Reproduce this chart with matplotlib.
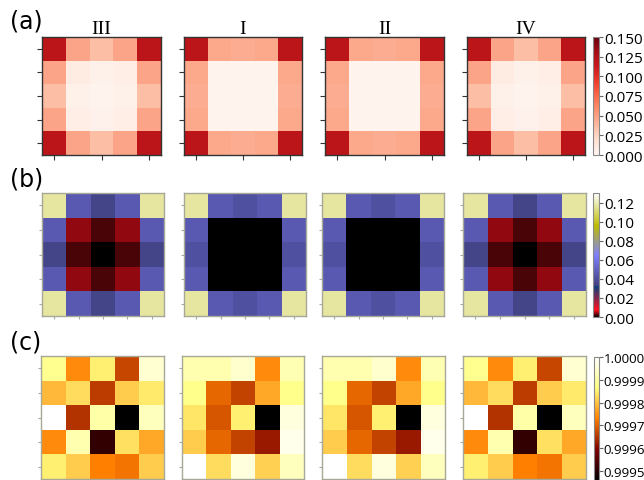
import numpy as np
import matplotlib.pyplot as plt
from matplotlib.ticker import FormatStrFormatter

# panel titles
labels = ["III", "I", "II", "IV"]

# (a) Reds maps
a_III = [[0.120, 0.048, 0.036, 0.048, 0.120],
         [0.048, 0.008, 0.004, 0.006, 0.048],
         [0.036, 0.004, 0.002, 0.004, 0.036],
         [0.048, 0.006, 0.003, 0.006, 0.048],
         [0.120, 0.048, 0.036, 0.048, 0.120]]
a_I = [[0.120, 0.046, 0.044, 0.046, 0.120],
       [0.046, 0.002, 0.002, 0.002, 0.046],
       [0.044, 0.002, 0.002, 0.002, 0.044],
       [0.046, 0.002, 0.002, 0.002, 0.046],
       [0.120, 0.046, 0.044, 0.046, 0.120]]
a_II = a_I
a_IV = a_III

# (b) gist_stern maps
b_III = [[0.117, 0.0455, 0.035, 0.0455, 0.117],
         [0.0455, 0.0045, 0.0021, 0.0045, 0.0455],
         [0.035, 0.0021, 0.0, 0.0021, 0.035],
         [0.0455, 0.0045, 0.0021, 0.0045, 0.0455],
         [0.117, 0.0455, 0.035, 0.0455, 0.117]]
b_I = [[0.117, 0.0455, 0.041, 0.0455, 0.117],
       [0.0455, 0.0, 0.0, 0.0, 0.0455],
       [0.041, 0.0, 0.0, 0.0, 0.041],
       [0.0455, 0.0, 0.0, 0.0, 0.0455],
       [0.117, 0.0455, 0.041, 0.0455, 0.117]]
b_II = b_I
b_IV = b_III

# (c) afmhot maps, stored as fractions of the colour range
c_III = [[0.78, 0.52, 0.72, 0.39, 0.91],
         [0.61, 0.68, 0.37, 0.65, 0.71],
         [1.00, 0.35, 0.83, 0.00, 0.87],
         [0.52, 0.84, 0.10, 0.69, 0.58],
         [0.72, 0.65, 0.50, 0.48, 0.65]]
c_I = [[0.84, 0.84, 0.90, 0.52, 0.85],
       [0.77, 0.45, 0.38, 0.58, 0.77],
       [0.70, 0.42, 0.72, 0.00, 0.93],
       [0.65, 0.45, 0.38, 0.30, 0.96],
       [1.00, 0.68, 0.93, 0.66, 0.87]]
c_II = c_I
c_IV = c_III

c_min, c_max = 0.99946, 1.0

W, H = 644, 481
fig = plt.figure(figsize=(W / 100, H / 100), dpi=100)


def ax_px(x0, y0, x1, y1):
    return fig.add_axes([x0 / W, 1 - y1 / H, (x1 - x0) / W, (y1 - y0) / H])


rows = [
    dict(data=[a_III, a_I, a_II, a_IV], cmap="Reds", vmin=0, vmax=0.15,
         y=(38, 156), xs=[(42, 161), (184, 302), (325, 444), (467, 585)],
         cb=(593, 38, 599, 156), ticks=np.arange(0, 0.151, 0.025), fmt="%.3f",
         edge="#333333", xt=[0, 2, 4], tl=3.5, tag="(a)", tag_y=22, fs=11),
    dict(data=[b_III, b_I, b_II, b_IV], cmap="gist_stern", vmin=0, vmax=0.13,
         y=(194, 317), xs=[(42, 164), (184, 306), (322, 444), (463, 586)],
         cb=(593, 194, 599, 318), ticks=np.arange(0, 0.121, 0.02), fmt="%.2f",
         edge="#a8a898", xt=[0, 1, 2, 3, 4], tl=2.5, tag="(b)", tag_y=180, fs=11),
    dict(data=[c_III, c_I, c_II, c_IV], cmap="afmhot", vmin=c_min, vmax=c_max,
         y=(357, 480), xs=[(41, 164), (182, 304), (322, 445), (463, 586)],
         cb=(594, 358, 599, 481), ticks=np.arange(0.9995, 1.00001, 0.0001), fmt="%.4f",
         edge="#a8a898", xt=[0, 1, 2, 3, 4], tl=2.5, tag="(c)", tag_y=343, fs=9.6),
]

for r, row in enumerate(rows):
    for k, grid in enumerate(row["data"]):
        z = np.array(grid, dtype=float)
        if r == 2:
            z = c_min + z * (c_max - c_min)
        ax = ax_px(row["xs"][k][0], row["y"][0], row["xs"][k][1], row["y"][1])
        im = ax.imshow(z, cmap=row["cmap"], vmin=row["vmin"], vmax=row["vmax"],
                       aspect="auto", interpolation="nearest")
        ax.set_xticks(row["xt"])
        ax.set_yticks(range(5))
        ax.set_xticklabels([])
        ax.set_yticklabels([])
        ax.tick_params(length=row["tl"], width=0.8, color=row["edge"])
        for s in ax.spines.values():
            s.set_color(row["edge"])
            s.set_linewidth(1.0)
        if r == 0:
            ax.set_title(labels[k], fontfamily="Liberation Serif", fontsize=14, pad=3)
    x0, y0, x1, y1 = row["cb"]
    cax = ax_px(x0, y0, x1, y1)
    cb = fig.colorbar(im, cax=cax)
    cb.set_ticks(row["ticks"])
    cb.ax.yaxis.set_major_formatter(FormatStrFormatter(row["fmt"]))
    cb.ax.tick_params(labelsize=row["fs"], length=3, width=0.8, color="#666666", pad=0.5)
    for t in cb.ax.get_yticklabels():
        t.set_fontfamily("Open Sans")
    cb.outline.set_edgecolor("#888888")
    cb.outline.set_linewidth(0.8)
    fig.text(10 / W, 1 - row["tag_y"] / H, row["tag"], fontsize=17, va="center", ha="left")

fig.savefig("out.png", dpi=100)
